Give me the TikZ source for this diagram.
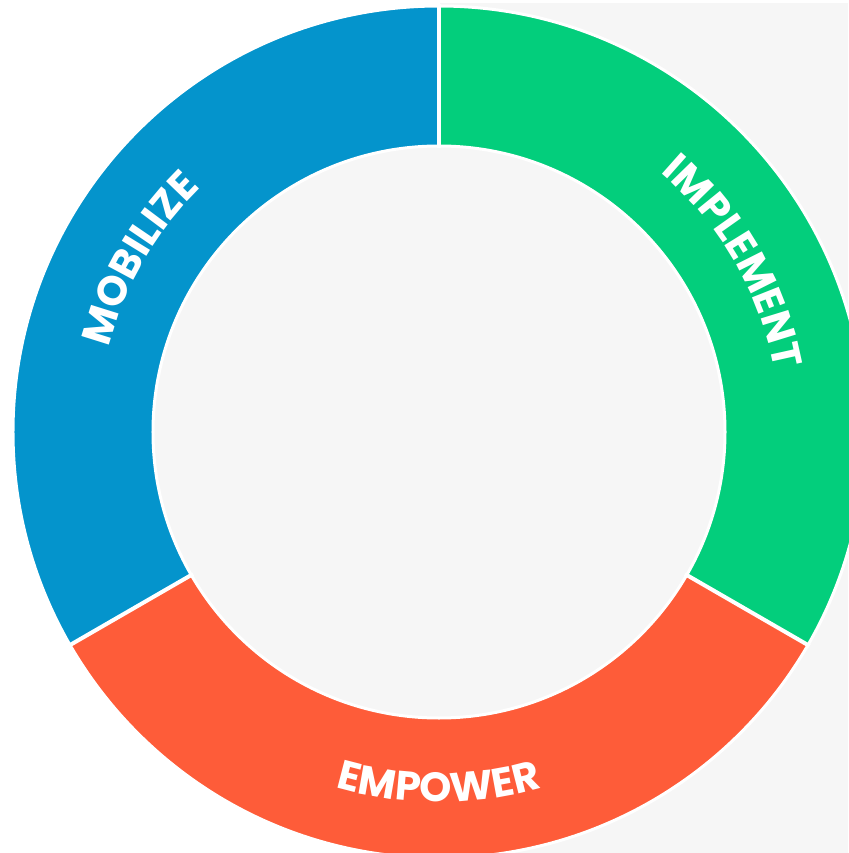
\documentclass[tikz,border=0pt]{standalone}
\usepackage{fontspec}
\newfontfamily\popfont{Poppins}
\usetikzlibrary{decorations.text}
\definecolor{cgreen}{HTML}{03CE7C}
\definecolor{cblue}{HTML}{0494CC}
\definecolor{cred}{HTML}{FE5C39}
\definecolor{cbg}{HTML}{F6F6F6}
\tikzset{
  sep/.style={white, line width=4pt},
  lbl/.style={decorate, decoration={text along path, text align=center,
     text={|\popfont\bfseries\fontsize{41}{41}\selectfont\color{white}|#1}}}
}
\begin{document}
\begin{tikzpicture}[x=1pt,y=1pt]
\useasboundingbox (-439,-421) rectangle (409,432);
\fill[white] (-439,-421) rectangle (409,432);
\fill[cbg] (1,-421) rectangle (409,429);
\coordinate (c) at (0,0);
% segments
\fill[cgreen] (90:425) arc[start angle=90,end angle=-30,radius=425] -- (-30:287) arc[start angle=-30,end angle=90,radius=287] -- cycle;
\fill[cred] (-30:425) arc[start angle=-30,end angle=-150,radius=425] -- (210:287) arc[start angle=210,end angle=330,radius=287] -- cycle;
\fill[cblue] (210:425) arc[start angle=210,end angle=90,radius=425] -- (90:287) arc[start angle=90,end angle=210,radius=287] -- cycle;
\draw[white, line width=3pt] (c) circle[radius=426];
\fill[cbg, draw=white, line width=3pt] (c) circle[radius=286];
\draw[sep] (90:284) -- (90:428);
\draw[sep] (-30:284) -- (-30:428);
\draw[sep] (210:284) -- (210:428);
% labels
\path[lbl=IMPLEMENT] (90:341) arc[start angle=90,end angle=-30,radius=341];
\path[lbl=MOBILIZE] (210:341) arc[start angle=210,end angle=90,radius=341];
\path[lbl=EMPOWER] (210:370) arc[start angle=210,end angle=330,radius=370];
\end{tikzpicture}
\end{document}
